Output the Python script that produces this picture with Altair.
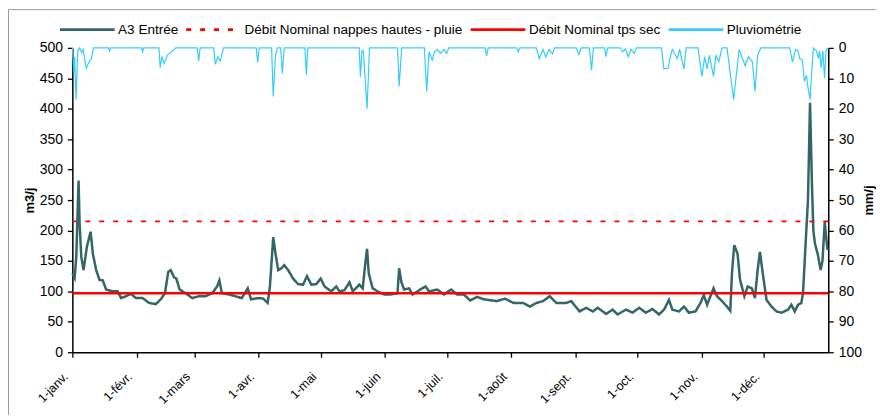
import json
import altair as alt
import pandas as pd

# ---- data ----
month_days = [0, 31, 59, 90, 120, 151, 181, 212, 243, 273, 304, 334]
month_labels = ["1-janv.", "1-févr.", "1-mars", "1-avr.", "1-mai", "1-juin",
                "1-juil.", "1-août", "1-sept.", "1-oct.", "1-nov.", "1-déc."]

series = ["A3 Entrée", "Débit Nominal nappes hautes - pluie",
          "Débit Nominal tps sec", "Pluviométrie"]
colors = ["#336666", "#FF0000", "#FF0000", "#33CCFF"]
dashes = [[1, 0], [5, 9], [1, 0], [1, 0]]

nominal_wet = 215
nominal_dry = 97

flow_day = [0, 1.1, 1.9, 3.0, 3.5, 4.3, 5.4, 7.0, 8.8, 9.9, 11.5, 13.1, 14.7, 16.3,
            19.5, 21.9, 23.5, 25.9, 28.3, 30.7, 33.9, 37.1, 40.3, 42.7, 44.7, 46.3,
            47.5, 49.1, 50.2, 51.8, 54.7, 57.9, 61, 64.3, 67.5, 69.9, 71, 72.2, 75.5,
            78.7, 81.8, 84.7, 86.3, 89.8, 92.2, 94.3, 95.4, 97, 98.1, 99.4, 101, 102.3,
            104.2, 106.6, 109, 111.4, 113.3, 115.4, 117.8, 119.9, 121.8, 125, 127.4,
            129, 131.4, 133.8, 135.4, 138.6, 140.2, 141.3, 142.3, 143.1, 145, 147.4,
            150.6, 153.8, 157, 157.8, 158.9, 160.2, 162.6, 164.2, 169, 170.6, 172.2,
            176.2, 179.4, 182.9, 185.8, 189, 192.1, 195.4, 198.6, 204.9, 208.9, 213,
            217.7, 220.9, 224.1, 227.3, 230.5, 233.7, 238.5, 240.9, 244.9, 248.1,
            251.3, 253.7, 257.7, 260.9, 263.3, 267.3, 270.5, 273.7, 276.9, 280.1,
            283.3, 285.7, 288.1, 289.7, 292.9, 295.3, 297.7, 300.9, 303.3, 304.9,
            306.5, 308.1, 309.6, 311.3, 313.7, 316.1, 317.7, 318.5, 319.6, 321.2,
            322.4, 324.5, 326.1, 328.1, 329.6, 330.9, 332, 333.6, 335.2, 337.6, 340,
            342.4, 345.6, 347.2, 348.8, 350.4, 352.0, 352.8, 354.4, 355.2, 356.2,
            357.1, 357.8, 358.6, 360.0, 361.3, 362.2, 363.3, 364.6]
flow_val = [130, 122, 157, 282, 212, 157, 135, 173, 198, 162, 135, 119, 118, 103,
            100, 100, 89, 92, 96, 89, 89, 81, 79, 87, 97, 132,
            135, 123, 121, 103, 97, 89, 92, 92, 97, 108, 118, 97, 95,
            92, 89, 105, 87, 89, 88, 81, 108, 189, 162, 135, 138, 143,
            135, 121, 112, 111, 125, 111, 112, 121, 108, 100, 108,
            100, 102, 115, 100, 111, 105, 141, 170, 130, 105, 100,
            95, 95, 97, 138, 115, 103, 105, 95, 105, 108, 100,
            103, 95, 103, 95, 95, 85, 91, 87, 84, 88, 81,
            81, 75, 81, 84, 92, 81, 81, 84, 67, 73,
            67, 73, 63, 70, 62, 70, 65, 73, 65, 71,
            62, 70, 86, 70, 67, 75, 65, 67, 81, 94,
            78, 92, 105, 92, 84, 75, 68, 130, 176, 162,
            119, 92, 108, 105, 89, 135, 165, 124, 86, 75, 67,
            65, 70, 78, 67, 78, 81, 97, 200, 250, 410,
            280, 200, 178, 160, 135, 150, 214, 168]

rain_day = [0, 0.7, 1.1, 1.8, 2.6, 3.5, 4.5, 5.2, 6.7, 8.5, 9.2, 10.2, 17.4, 17.9, 18.4,
            33.4, 33.9, 34.4, 41.8, 42.4, 43.2, 44.3, 45.9, 47.9, 49.9, 60.3, 61, 61.7,
            68.3, 69, 70.3, 71.4, 73, 88.8, 89.5, 90.2, 96.2, 97, 98.1, 99, 100.6, 101.4,
            102.3, 112.3, 113, 113.7, 138.5, 139.1, 139.8, 140.5, 142.3, 143.5, 157,
            157.8, 159, 170, 171.1, 172.2, 173.8, 174.9, 176.2, 177.8, 179.4, 180.7,
            181.8, 199.3, 200, 200.8, 214.6, 215.3, 216, 224.1, 225.4, 227.3, 228.6,
            230.2, 231.8, 232.9, 243.3, 244.6, 245.7, 249.7, 250.7, 251.6, 257, 257.7,
            258.5, 264.6, 265.8, 267, 268.4, 269.7, 271.3, 272.4, 284.5, 285.6, 287.7,
            288.9, 289.7, 292.1, 293.2, 295.3, 296.4, 302.1, 304, 305.3, 306.5, 307.6,
            309.6, 310.8, 312.1, 313.7, 316.1, 317.7, 319.3, 320.6, 322, 323.6, 324.9,
            326.5, 328.4, 329.6, 330.9, 332.5, 346.4, 347.7, 349.3, 350.5, 351.2, 352.5,
            353.5, 354.5, 355.2, 356.2, 357.0, 357.8, 359.3, 360.3, 360.8, 361.6, 362.4,
            363.2, 363.9, 364.6]
rain_mm = [0, 8, 3, 17, 1, 0, 1.5, 0.5, 6.7, 4, 3.5, 0, 0, 1, 0,
           0, 1.3, 0, 0, 6.5, 2.9, 5.1, 2.4, 1.3, 0, 0, 4.3, 0,
           0, 5.4, 2.9, 4.3, 0, 0, 4.8, 0, 0, 16, 2.4, 0, 0, 8.4,
           0, 0, 8.9, 0, 0, 9.5, 1, 1, 20, 0, 0,
           12.7, 0, 0, 14.3, 1.3, 4, 1.3, 0.5, 1.8, 0.5, 1.8,
           0, 0, 2.6, 0, 0, 1.3, 0, 0, 3.5, 0.5, 3,
           0.5, 2, 0, 0, 2.2, 0, 0, 7.3, 0, 0, 2.9,
           0, 0, 1.3, 0.3, 2.9, 0.5, 1.8, 0, 0, 6.9, 6.7,
           2.4, 0.5, 3.5, 0.5, 6.9, 0, 0, 9.4, 2.9, 6.9, 2.4,
           9.4, 2.4, 4.6, 0, 0, 8.4, 17, 8.9, 0.5, 3.5, 5.9,
           2.9, 4.6, 14.3, 2.4, 0, 0, 4.7, 0.5, 1, 3.5, 4,
           11, 9, 13, 17, 8, 0, 1, 3.5, 1, 6.5, 1,
           10, 1, 0]

flow_df = pd.DataFrame({"day": flow_day, "v": flow_val, "serie": series[0]})
rain_df = pd.DataFrame({"day": rain_day, "mm": rain_mm, "serie": series[3]})
wet_df = pd.DataFrame({"v": [nominal_wet], "serie": [series[1]]})
dry_df = pd.DataFrame({"v": [nominal_dry], "serie": [series[2]]})

FONT = "Liberation Sans, Arial, sans-serif"

label_expr = (json.dumps(month_labels, ensure_ascii=False)
              + "[indexof(" + json.dumps(month_days) + ", datum.value)]")

x_enc = alt.X("day:Q",
              scale=alt.Scale(domain=[0, 365], nice=False, zero=False),
              axis=alt.Axis(values=month_days, labelExpr=label_expr, title=None,
                            labelAngle=-45, labelAlign="right", labelBaseline="middle",
                            labelPadding=17, labelOffset=-7, labelFontSize=12.5))

color_enc = alt.Color("serie:N",
                      scale=alt.Scale(domain=series, range=colors),
                      legend=alt.Legend(title=None, orient="none", direction="horizontal",
                                        legendX=-14, legendY=-47.5, columns=4,
                                        symbolType="stroke", symbolSize=3025,
                                        symbolStrokeWidth=2.8, labelOffset=2,
                                        columnPadding=1, labelFontSize=13.6, labelLimit=500,
                                        labelFont=FONT, labelColor="#000"))
dash_enc = alt.StrokeDash("serie:N", scale=alt.Scale(domain=series, range=dashes))

left_axis = alt.Axis(values=list(range(0, 501, 50)), title="m3/j", orient="left",
                     titlePadding=3, labelOverlap=False)
y_left = alt.Y("v:Q", scale=alt.Scale(domain=[0, 500], nice=False), axis=left_axis)

flow = alt.Chart(flow_df).mark_line(strokeWidth=2.5).encode(
    x=x_enc, y=y_left, color=color_enc, strokeDash=dash_enc)
wet = alt.Chart(wet_df).mark_rule(strokeWidth=1.6).encode(
    y=y_left, color=color_enc, strokeDash=dash_enc)
dry = alt.Chart(dry_df).mark_rule(strokeWidth=2.5).encode(
    y=y_left, color=color_enc, strokeDash=dash_enc)

# grey chart-area frame (top and left edges), decorative
frame_df = pd.DataFrame({"k": [0]})
frame_top = alt.Chart(frame_df).mark_rule(color="#999999", strokeWidth=1).encode(
    x=alt.value(-64.2), x2=alt.value(820), y=alt.value(-38.5))
frame_left = alt.Chart(frame_df).mark_rule(color="#999999", strokeWidth=1).encode(
    x=alt.value(-64.2), y=alt.value(-38.5), y2=alt.value(380))

left = alt.layer(flow, wet, dry)

rain = alt.Chart(rain_df).mark_line(strokeWidth=1.2).encode(
    x=x_enc,
    y=alt.Y("mm:Q",
            scale=alt.Scale(domain=[0, 100], reverse=True, nice=False),
            axis=alt.Axis(values=list(range(0, 101, 10)), title="mm/j", orient="right",
                          titleAngle=270, titlePadding=14, labelOverlap=False)),
    color=color_enc, strokeDash=dash_enc)

chart = alt.layer(left, rain, frame_top, frame_left).resolve_scale(y="independent").properties(
    width=760, height=306,
    autosize=alt.AutoSizeParams(type="none"),
    padding={"left": 64.7, "top": 39, "right": 48, "bottom": 62},
    background="white",
).configure_view(strokeWidth=0).configure_axis(
    grid=False, domainColor="#000", domainWidth=1.5, tickColor="#000", tickWidth=1.3,
    tickSize=5, labelFont=FONT, labelFontSize=14, labelColor="#000",
    titleFont=FONT, titleFontSize=13, titleFontWeight="bold", titleColor="#000",
    labelPadding=5,
)

chart.save("out.html", embed_options={"renderer": "svg", "actions": False})
